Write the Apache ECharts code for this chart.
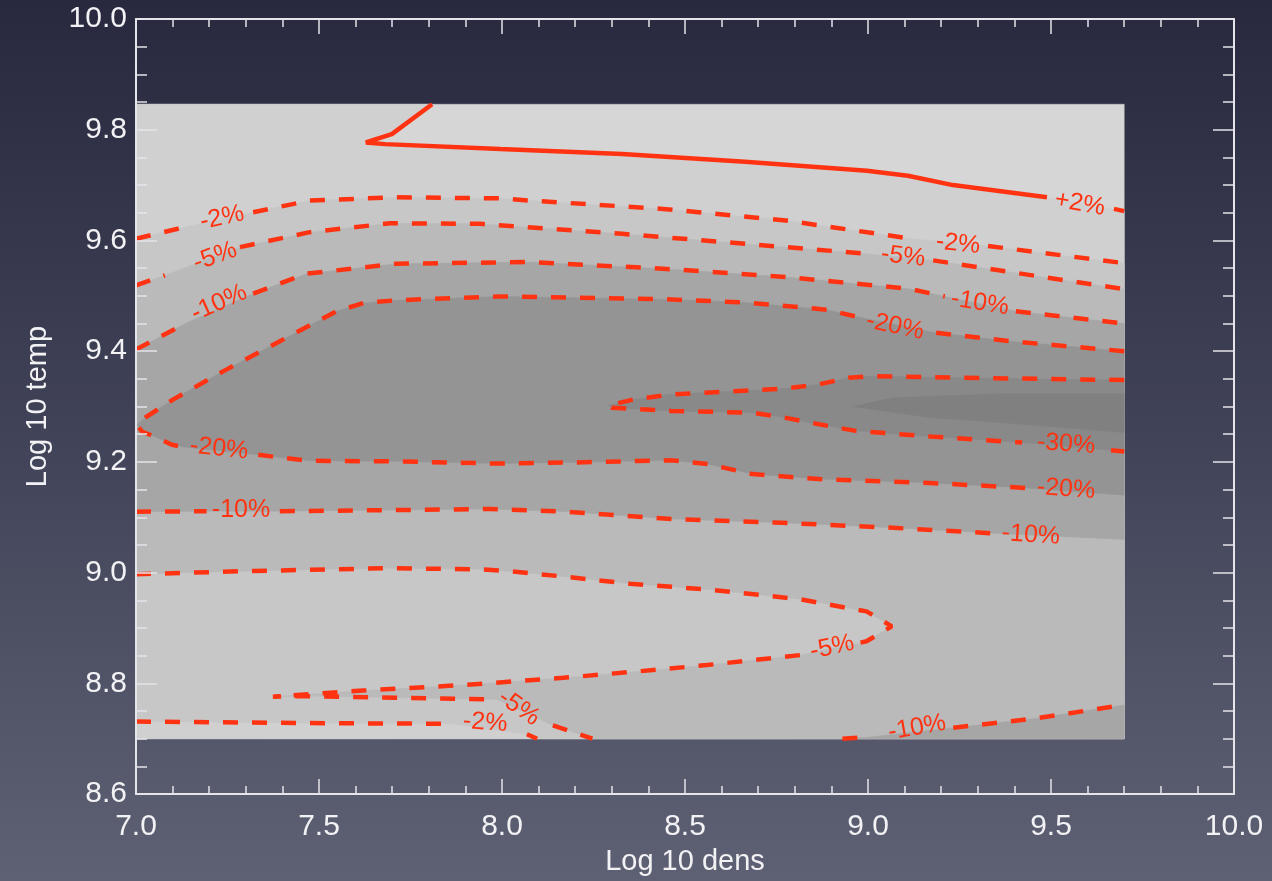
<!DOCTYPE html>
<html>
<head>
<meta charset="utf-8">
<title>Log 10 temp vs Log 10 dens</title>
<script src="https://cdn.jsdelivr.net/npm/echarts@6/dist/echarts.min.js"></script>
<style>
  html, body { margin: 0; padding: 0; width: 1272px; height: 881px; overflow: hidden; }
  #chart { width: 1272px; height: 881px; }
</style>
</head>
<body>
<div id="chart"></div>
<script>
// Axis ranges
const xRange = [7.0, 10.0];
const yRange = [8.6, 10.0];

// Extent of the computed field (grey filled area)
const fieldX = [7.0, 9.70];
const fieldY = [8.70, 9.846];

// Contour paths [log dens, log temp]; null marks a gap where the label sits
const contourPlus2 = [[7.809,9.846],[7.699,9.792],[7.628,9.777],[7.680,9.774],[7.995,9.765],[8.328,9.756],[8.664,9.742],[8.997,9.726],[9.109,9.717],[9.232,9.700],[9.489,9.678],null,[9.672,9.657],[9.700,9.653]];
const contourMinus2Top = [[7.0,9.603],[7.120,9.622],null,[7.320,9.651],[7.475,9.672],[7.712,9.678],[7.995,9.676],[8.077,9.672],[8.440,9.657],[8.776,9.636],[9.120,9.603],null,[9.328,9.590],[9.700,9.559]];
const contourMinus5Top = [[7.0,9.519],[7.079,9.537],null,[7.284,9.588],[7.475,9.615],[7.694,9.631],[7.940,9.630],[8.328,9.612],[8.664,9.594],[8.997,9.576],null,[9.178,9.564],[9.388,9.543],[9.700,9.512]];
const contourMinus10Top = [[7.0,9.403],[7.138,9.451],null,[7.320,9.504],[7.466,9.540],[7.712,9.558],[8.077,9.561],[8.440,9.549],[8.776,9.534],[9.109,9.513],[9.210,9.499],null,[9.404,9.472],[9.700,9.450]];
const contourMinus20 = [[9.700,9.400],[9.388,9.418],[9.178,9.434],null,[8.964,9.463],[8.887,9.475],[8.664,9.488],[8.440,9.494],[7.995,9.499],[7.712,9.492],[7.621,9.487],[7.548,9.472],[7.393,9.418],[7.239,9.364],[7.102,9.313],[7.025,9.280],[7.003,9.267],[7.016,9.255],[7.057,9.244],[7.098,9.231],[7.129,9.227],null,[7.334,9.213],[7.393,9.208],[7.475,9.202],[7.712,9.201],[7.986,9.197],[8.194,9.199],[8.462,9.203],[8.563,9.196],[8.684,9.178],[8.866,9.169],[9.169,9.162],[9.432,9.153]];
const contourMinus30 = [[9.700,9.348],[9.574,9.349],[9.169,9.353],[9.018,9.355],[8.947,9.352],[8.866,9.340],[8.765,9.332],[8.613,9.327],[8.462,9.322],[8.361,9.313],[8.290,9.302],[8.300,9.298],[8.462,9.292],[8.683,9.289],[8.765,9.281],[8.866,9.268],[8.967,9.256],[9.169,9.246],[9.421,9.235],null,[9.664,9.221],[9.700,9.219]];
const contourMinus10Mid = [[7.0,9.110],[7.193,9.111],null,[7.393,9.111],[7.712,9.113],[7.967,9.115],[8.179,9.110],[8.462,9.097],[8.765,9.090],[9.068,9.081],[9.342,9.071]];
const contourMinus5Low = [[7.0,8.997],[7.257,9.002],[7.530,9.006],[7.694,9.008],[7.940,9.006],[8.030,9.002],[8.167,8.993],[8.350,8.980],[8.573,8.969],[8.814,8.952],[8.996,8.930],[9.065,8.903],[8.996,8.876],[8.969,8.872],null,[8.814,8.851],[8.559,8.833],[8.377,8.822],[8.167,8.810],[7.893,8.797],[7.620,8.787],[7.374,8.776],[7.456,8.777],[7.721,8.774],[7.986,8.771],null,[8.139,8.724],[8.247,8.700]];
const contourMinus2Low = [[7.0,8.731],[7.530,8.728],[7.867,8.727],null,[8.068,8.708],[8.096,8.700]];
const contourMinus10Low = [[8.930,8.700],[9.005,8.703],null,[9.233,8.720],[9.451,8.736],[9.669,8.758],[9.700,8.761]];

// Where the open contours leave the right edge of the field
const minus10MidRightEdge = 9.060;
const minus20LowRightEdge = 9.140;

// Deepest core of the field
const coreMinus35 = [[9.700,9.323],[9.361,9.323],[9.068,9.316],[8.956,9.300],[9.169,9.280],[9.361,9.271],[9.700,9.253]];

// Contour labels: text, position, angle
const labelTexts  = ['+2%','-2%','-2%','-5%','-5%','-10%','-10%','-20%','-20%','-20%','-30%','-10%','-10%','-5%','-5%','-2%','-10%'];
const labelPos    = [[9.579,9.666],[7.235,9.641],[9.246,9.594],[7.216,9.571],[9.096,9.571],[7.227,9.487],[9.306,9.487],[9.074,9.445],[7.227,9.224],[9.541,9.151],[9.541,9.232],[7.287,9.113],[9.445,9.068],[8.902,8.865],[8.046,8.756],[7.954,8.729],[9.134,8.720]];
const labelAngles = [-10, 12, -6, 20, -7, 24, -9, -12, -6, -4, -4, 0, -4, 12, -35, -4, 10];

const RED = '#ff3311';
const AXIS = '#e4e4ea';
const TEXT = '#f2f2f5';
const FONT = '"Liberation Sans", Arial, Helvetica, sans-serif';

const pts = a => a.filter(p => p !== null);
const rev = a => pts(a).slice().reverse();

// Filled regions, painted from lightest to darkest
const fills = [
  { color: '#d6d6d6', poly: [[fieldX[0],fieldY[0]],[fieldX[1],fieldY[0]],[fieldX[1],fieldY[1]],[fieldX[0],fieldY[1]]] },
  { color: '#d0d0d0', poly: [[fieldX[0],fieldY[1]], ...pts(contourPlus2), [fieldX[1],fieldY[0]], [fieldX[0],fieldY[0]]] },
  { color: '#c7c7c7', poly: [...pts(contourMinus2Top), [fieldX[1],fieldY[0]], ...rev(contourMinus2Low)] },
  { color: '#bababa', poly: [...pts(contourMinus5Top), [fieldX[1],fieldY[0]], ...rev(contourMinus5Low)] },
  { color: '#a6a6a6', poly: [...pts(contourMinus10Top), [fieldX[1],minus10MidRightEdge], ...rev(contourMinus10Mid)] },
  { color: '#a6a6a6', poly: [...pts(contourMinus10Low), [fieldX[1],fieldY[0]]] },
  { color: '#949494', poly: [...pts(contourMinus20), [fieldX[1],minus20LowRightEdge]] },
  { color: '#898989', poly: pts(contourMinus30) },
  { color: '#808080', poly: coreMinus35 }
];

const fillSeries = fills.map(f => ({
  type: 'custom',
  silent: true,
  z: 1,
  data: f.poly,
  renderItem: function (params, api) {
    if (params.dataIndex !== 0) return;
    return {
      type: 'polygon',
      shape: { points: f.poly.map(p => api.coord(p)) },
      style: { fill: f.color, stroke: f.color, lineWidth: 0.5 }
    };
  }
}));

// Break a contour at its null markers into drawable pieces
function segments(path) {
  const out = [];
  let cur = [];
  path.forEach(p => {
    if (p === null) { if (cur.length) out.push(cur); cur = []; }
    else cur.push(p);
  });
  if (cur.length) out.push(cur);
  return out;
}

const contours = [
  { path: contourPlus2, solid: true },
  { path: contourMinus2Top }, { path: contourMinus5Top }, { path: contourMinus10Top },
  { path: contourMinus20 }, { path: contourMinus30 }, { path: contourMinus10Mid },
  { path: contourMinus5Low }, { path: contourMinus2Low }, { path: contourMinus10Low }
];

const lineSeries = [];
contours.forEach(c => {
  segments(c.path).forEach(seg => {
    lineSeries.push({
      type: 'line',
      data: seg,
      silent: true,
      symbol: 'none',
      showSymbol: false,
      z: 3,
      lineStyle: { color: RED, width: 4.5, type: c.solid ? 'solid' : [15, 14], cap: 'butt' },
      animation: false
    });
  });
});

// Level labels placed on the contours
const labelSeries = {
  type: 'custom',
  silent: true,
  z: 4,
  data: labelPos,
  renderItem: function (params, api) {
    const i = params.dataIndex;
    const c = api.coord(labelPos[i]);
    return {
      type: 'text',
      x: c[0], y: c[1],
      rotation: labelAngles[i] * Math.PI / 180,
      style: {
        text: labelTexts[i],
        fill: RED,
        font: '25px ' + FONT,
        align: 'center',
        verticalAlign: 'middle'
      }
    };
  }
};

const tickLine = { color: AXIS, width: 1.5 };

function xAxisDef(pos, withLabels) {
  return {
    type: 'value', position: pos, min: xRange[0], max: xRange[1], interval: 0.5,
    z: 10,
    axisLine: { show: true, onZero: false, lineStyle: { color: AXIS, width: 2 } },
    axisTick: { show: true, inside: true, length: 15, lineStyle: tickLine },
    minorTick: { show: true, splitNumber: 5, length: 8, lineStyle: tickLine },
    splitLine: { show: false }, minorSplitLine: { show: false },
    axisLabel: {
      show: withLabels, color: TEXT, fontSize: 30, fontFamily: FONT, margin: 18,
      showMinLabel: true, showMaxLabel: true,
      formatter: v => v.toFixed(1)
    },
    name: withLabels ? 'Log 10 dens' : '',
    nameLocation: 'middle', nameGap: 50,
    nameTextStyle: { color: TEXT, fontSize: 29, fontFamily: FONT }
  };
}

function yAxisDef(pos, withLabels) {
  return {
    type: 'value', position: pos, min: yRange[0], max: yRange[1], interval: 0.2,
    z: 10,
    axisLine: { show: true, onZero: false, lineStyle: { color: AXIS, width: 2 } },
    axisTick: { show: true, inside: true, length: 21, lineStyle: tickLine },
    minorTick: { show: true, splitNumber: 4, length: 11, lineStyle: tickLine },
    splitLine: { show: false }, minorSplitLine: { show: false },
    axisLabel: {
      show: withLabels, color: TEXT, fontSize: 30, fontFamily: FONT, margin: 9,
      showMinLabel: true, showMaxLabel: true,
      formatter: v => v.toFixed(1)
    },
    name: withLabels ? 'Log 10 temp' : '',
    nameLocation: 'middle', nameGap: 84, nameRotate: 90,
    nameTextStyle: { color: TEXT, fontSize: 29, fontFamily: FONT }
  };
}

const chart = echarts.init(document.getElementById('chart'), null, { renderer: 'canvas' });
chart.setOption({
  animation: false,
  backgroundColor: {
    type: 'linear', x: 0, y: 0, x2: 0, y2: 1,
    colorStops: [
      { offset: 0, color: '#28293f' },
      { offset: 0.5, color: '#414358' },
      { offset: 1, color: '#5e6074' }
    ]
  },
  grid: { left: 136, right: 38, top: 19, bottom: 82, containLabel: false },
  xAxis: [xAxisDef('bottom', true), xAxisDef('top', false)],
  yAxis: [yAxisDef('left', true), yAxisDef('right', false)],
  series: [...fillSeries, ...lineSeries, labelSeries]
});
</script>
</body>
</html>
